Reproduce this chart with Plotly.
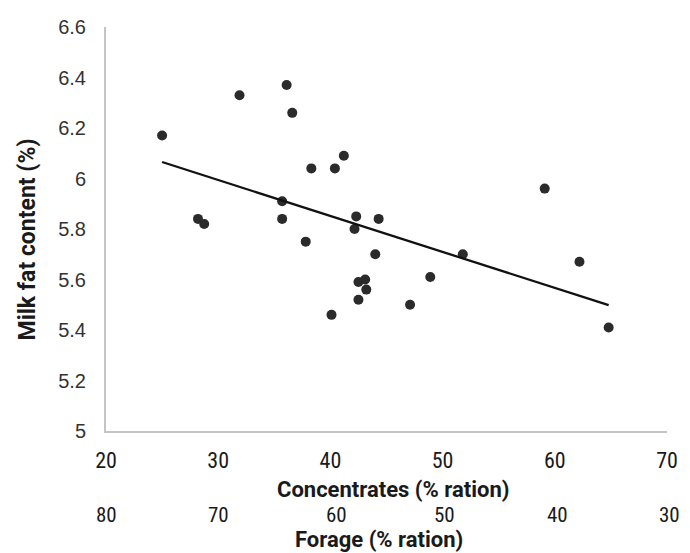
import numpy as np
import plotly.graph_objects as go

# Concentrate share of the ration (%) and milk fat content (%) for each study
concentrates = [25.0, 28.2, 28.75, 31.9, 35.7, 35.7, 36.1, 36.6, 37.8, 38.3,
                40.1, 40.4, 41.2, 42.15, 42.3, 42.5, 42.5, 43.1, 43.2, 44.0,
                44.3, 47.1, 48.9, 51.8, 59.1, 62.2, 64.8]
milk_fat = [6.17, 5.84, 5.82, 6.33, 5.91, 5.84, 6.37, 6.26, 5.75, 6.04,
            5.46, 6.04, 6.09, 5.80, 5.85, 5.59, 5.52, 5.60, 5.56, 5.70,
            5.84, 5.50, 5.61, 5.70, 5.96, 5.67, 5.41]

conc_ticks = [20, 30, 40, 50, 60, 70]
forage_ticks = [80, 70, 60, 50, 40, 30]
fat_ticks = [5, 5.2, 5.4, 5.6, 5.8, 6, 6.2, 6.4, 6.6]
fat_tick_text = ["5", "5.2", "5.4", "5.6", "5.8", "6", "6.2", "6.4", "6.6"]

# Linear trend line fitted to the data
slope, intercept = np.polyfit(concentrates, milk_fat, 1)
trend_x = [min(concentrates), max(concentrates)]
trend_y = [intercept + slope * v for v in trend_x]

NARROW = "Roboto Condensed, Liberation Sans Narrow, Roboto, Liberation Sans"
TITLE = "Roboto, Liberation Sans, Arial"
ARIAL = "Liberation Sans, Arial"
TEXT = "#1a1a1a"

fig = go.Figure()
fig.add_trace(go.Scatter(
    x=concentrates, y=milk_fat, mode="markers",
    marker=dict(size=10, color="#2b2b2b"),
    showlegend=False, hoverinfo="x+y",
))
fig.add_trace(go.Scatter(
    x=trend_x, y=trend_y, mode="lines",
    line=dict(color="#111111", width=2.3),
    showlegend=False, hoverinfo="skip",
))

# The hand-placed forage labels sit slightly unevenly (pixel nudges)
forage_nudge = {80: 0, 70: 0, 60: 6, 50: 2, 40: 3, 30: 2}

annotations = []
# Forage share is the complement of concentrates: second label row
for c, f in zip(conc_ticks, forage_ticks):
    annotations.append(dict(
        x=c, y=-0.208, xref="x", yref="paper", text=str(f), showarrow=False,
        xanchor="center", yanchor="middle", xshift=forage_nudge[f],
        font=dict(family=NARROW, size=21, color=TEXT),
    ))
annotations.append(dict(
    x=0.5, y=-0.1436, xref="paper", yref="paper", text="<b>Concentrates (% ration)</b>",
    showarrow=False, xanchor="center", yanchor="middle", xshift=6,
    font=dict(family=TITLE, size=22, color=TEXT),
))
annotations.append(dict(
    x=0.5, y=-0.2698, xref="paper", yref="paper", text="<b>Forage (% ration)</b>",
    showarrow=False, xanchor="center", yanchor="middle", xshift=-8,
    font=dict(family=TITLE, size=22, color=TEXT),
))
annotations.append(dict(
    x=-0.14, y=0.5, xref="paper", yref="paper", text="<b>Milk fat content (%)</b>",
    showarrow=False, xanchor="center", yanchor="middle", textangle=-90, yshift=-10,
    font=dict(family=TITLE, size=23, color=TEXT),
))

fig.update_layout(
    width=690, height=553,
    margin=dict(l=106, r=18, t=27, b=122),
    paper_bgcolor="white", plot_bgcolor="white",
    annotations=annotations,
    xaxis=dict(
        range=[20, 70], tickvals=conc_ticks, ticks="", showgrid=False,
        zeroline=False, showline=True, linecolor="#c4c4c4", linewidth=2,
        tickfont=dict(family=NARROW, size=22, color=TEXT),
        ticklabelstandoff=9,
    ),
    yaxis=dict(
        range=[5, 6.6], tickvals=fat_ticks, ticktext=fat_tick_text, ticks="",
        showgrid=False, zeroline=False, showline=True, linecolor="#c4c4c4",
        linewidth=2, tickfont=dict(family=ARIAL, size=20, color="#333333"),
        ticklabelstandoff=14,
    ),
)

fig.write_html("out.html")
